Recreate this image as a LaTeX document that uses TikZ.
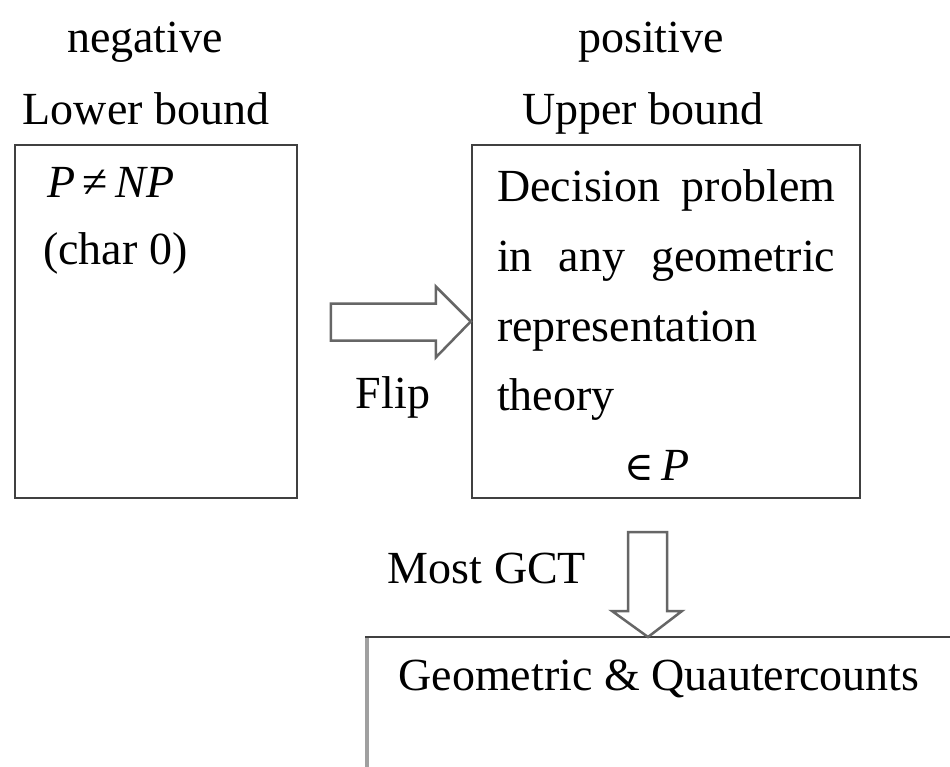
\documentclass[tikz,border=0pt]{standalone}
\usepackage{fontspec}
\setmainfont{Liberation Serif}
\newfontfamily\symfont{DejaVu Serif}
\definecolor{boxline}{HTML}{404040}
\definecolor{arrline}{HTML}{666666}
\definecolor{leftline}{HTML}{A0A0A0}
\begin{document}
\begin{tikzpicture}[x=1pt,y=-1pt,
  txt/.style={inner sep=0pt,font=\fontsize{46}{55}\selectfont},
  box/.style={draw=boxline,line width=2.5pt,minimum width=282pt,minimum height=353pt,inner sep=0pt},
  blockarrow/.style={draw=arrline,line width=2.5pt,line join=miter,fill=white}]
\useasboundingbox (0,0) rectangle (950,767);
\clip (0,0) rectangle (950,767);
\fill[white] (0,0) rectangle (950,767);

% header labels
\node[txt,anchor=base] (neg) at (145,53) {negative};
\node[txt,anchor=base] (low) at (146,125) {Lower bound};
\node[txt,anchor=base] (pos) at (651,53) {positive};
\node[txt,anchor=base] (upp) at (643,125) {Upper bound};

% boxes
\node[box] (lb) at (156,321.5) {};
\node[box,minimum width=388pt] (rb) at (666,321.5) {};

% left box text
\node[txt,anchor=base west] (pnp) at (47,198) {\textit{P}\,≠\,\textit{NP}};
\node[txt,anchor=base west] (char) at (43,265) {(char 0)};

% right box text
\node[txt,anchor=base west] (r1) at (497,202) {\makebox[338pt][s]{Decision problem}};
\node[txt,anchor=base west] (r2) at (497,272) {\makebox[338pt][s]{in any geometric}};
\node[txt,anchor=base west] (r3) at (497,341) {representation};
\node[txt,anchor=base west] (r4) at (497,410) {theory};
\node[txt,anchor=base] (inp) at (657,480) {{\symfont\fontsize{40}{48}\selectfont ∈}\,\textit{P}};

% Flip arrow
\draw[blockarrow] (rb.west) -- ++(-35,-35) -- ++(0,17) -- ++(-105,0) -- ++(0,37) -- ++(105,0) -- ++(0,17) -- cycle;
\node[txt,anchor=base] (flip) at (393,408) {Flip};

% bottom box (partly outside the picture)
\coordinate (bt) at (648,637);
\draw[leftline,line width=4pt] (367,637) -- (367,790);
\draw[boxline,line width=2.5pt] (365,637) -- (bt) -- (980,637);
\node[txt,anchor=base] (geo) at (659,690) {Geometric \& Quautercounts};

% Most GCT arrow
\draw[blockarrow] (bt) -- ++(-36,-26) -- ++(16,0) -- ++(0,-79) -- ++(39,0) -- ++(0,79) -- ++(15,0) -- cycle;
\node[txt,anchor=base] (gct) at (487,583) {Most GCT};
\end{tikzpicture}
\end{document}
